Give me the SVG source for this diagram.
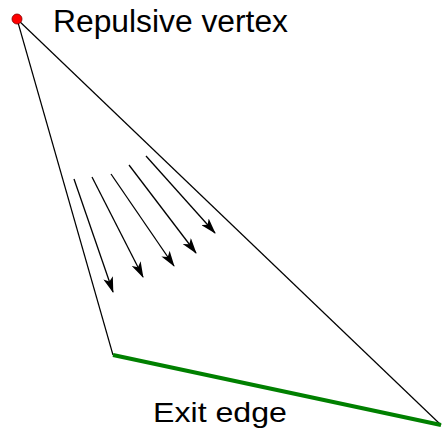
<svg xmlns="http://www.w3.org/2000/svg" width="443" height="438" viewBox="0 0 443 438">
<style>
.lbl{font-family:Arial,"Liberation Sans",Helvetica,sans-serif;fill:#000}
.edge{stroke:#000;stroke-width:1.2;fill:none}
.flow{stroke:#000;stroke-width:1.3;fill:none;marker-end:url(#ah)}
</style>
<defs>
<marker id="ah" viewBox="0 0 16 10" refX="15" refY="5" markerWidth="16" markerHeight="10" markerUnits="userSpaceOnUse" orient="auto">
<path d="M0,0 L16,5 L0,10 L4,5 Z" fill="#000"/>
</marker>
</defs>
<rect width="443" height="438" fill="#fff"/>
<g id="connectors">
<line class="edge" x1="17" y1="19" x2="113" y2="355"/>
<line class="edge" x1="17" y1="19" x2="441" y2="425"/>
<line x1="113" y1="355" x2="441" y2="425" stroke="#008000" stroke-width="4"/>
<line class="flow" x1="74" y1="179" x2="113" y2="292"/>
<line class="flow" x1="92" y1="177" x2="143" y2="277"/>
<line class="flow" x1="111" y1="174" x2="174" y2="266"/>
<line class="flow" x1="129" y1="165" x2="196" y2="253"/>
<line class="flow" x1="146" y1="156" x2="215" y2="233"/>
</g>
<g id="vertex">
<circle cx="17" cy="19" r="5" fill="#ff0000" stroke="#800000" stroke-width="0.8"/>
<text class="lbl" x="53" y="32" style="font-size:31px" textLength="235" lengthAdjust="spacingAndGlyphs">Repulsive vertex</text>
</g>
<g id="exit-edge">
<text class="lbl" x="153" y="422" style="font-size:28px" textLength="134" lengthAdjust="spacingAndGlyphs">Exit edge</text>
</g>
</svg>
